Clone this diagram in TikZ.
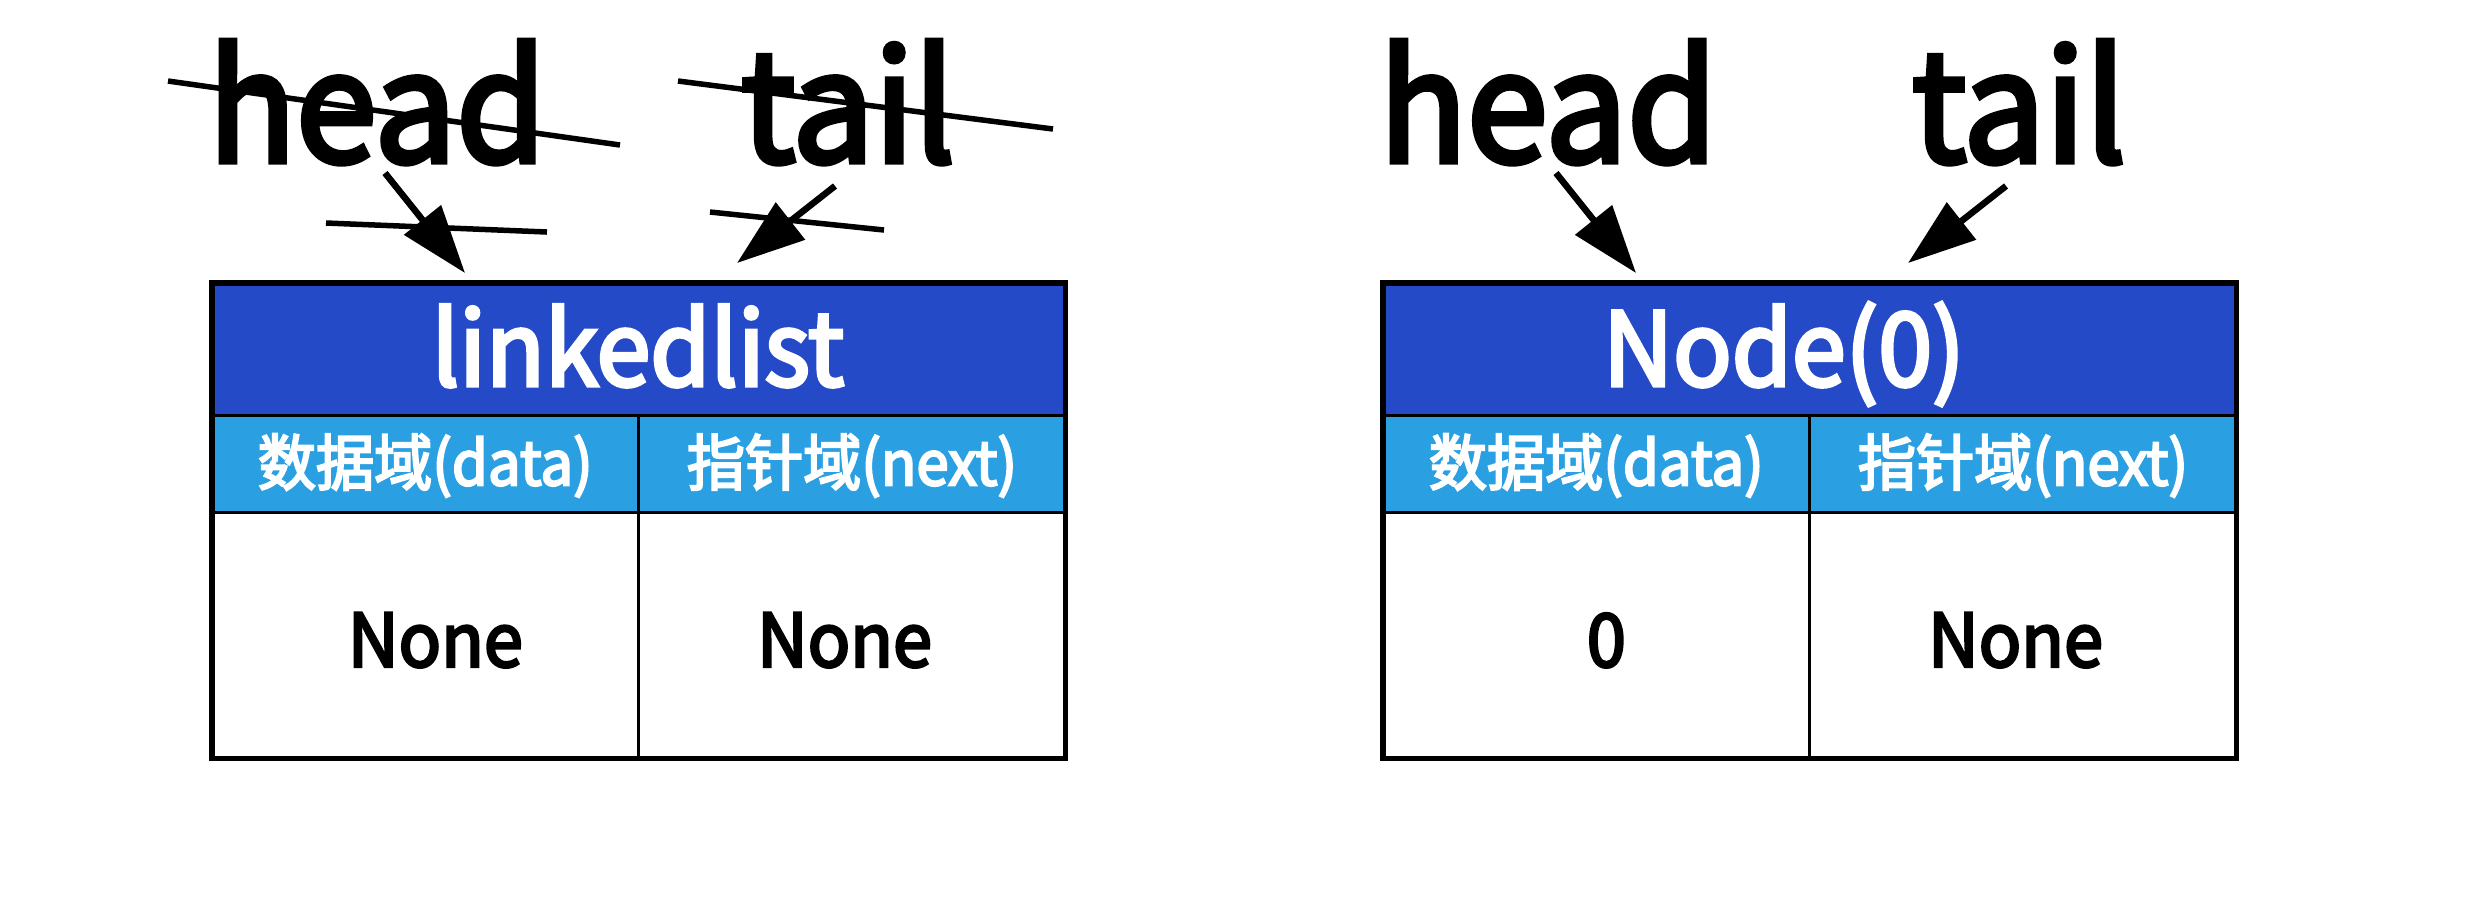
\documentclass[tikz,border=0pt]{standalone}
\usepackage{fontspec}
\setmainfont{Noto Sans CJK SC}[FakeStretch=0.95, FakeBold=3.5]
\usepackage{xcolor}
\usetikzlibrary{positioning, arrows.meta}

\definecolor{hdrblue}{HTML}{254AC8}
\definecolor{fldblue}{HTML}{2AA0E2}

\tikzset{
  hdr/.style={fill=hdrblue, text=white, inner sep=0pt, minimum width=8.5cm,
    minimum height=1.31cm, text height=0.85cm, text depth=0.12cm,
    font=\fontsize{29}{29}\selectfont},
  fld/.style={fill=fldblue, text=white, inner sep=0pt, minimum width=4.25cm,
    minimum height=0.96cm, text height=0.5cm, text depth=0.08cm,
    font=\fontsize{17.4}{17.4}\selectfont},
  val/.style={fill=white, inner sep=0pt, minimum width=4.25cm,
    minimum height=2.44cm, text height=0.66cm, text depth=0.04cm,
    font=\fontsize{21}{21}\selectfont},
  ptrname/.style={inner sep=0pt, anchor=base, font=\fontsize{43.5}{43.5}\selectfont},
  ptr/.style={line width=0.65mm, -{Triangle[length=6.8mm, width=4.6mm]}},
  grid/.style={line width=0.3mm},
  frame/.style={line width=0.55mm},
  strike/.style={line width=0.55mm}
}

\begin{document}
\begin{tikzpicture}[x=0.01cm, y=-0.01cm]
  \useasboundingbox (0,0) rectangle (2467,917);

  % the list before and after the first append
  \foreach \dx/\nm/\ttl/\dv in {0/l/linkedlist/None, 1171/r/Node(0)\kern0.5cm/0} {
    \begin{scope}[shift={(\dx,0)}]
      \node[hdr, anchor=north west] (\nm hdr) at (212,283) {\ttl};
      \node[fld, below right=0pt of \nm hdr.south west] (\nm data) {数据域(data)};
      \node[fld, right=0pt of \nm data] (\nm next) {指针域(next)};
      \node[val, below=0pt of \nm data] (\nm dval) {\kern0.2cm\dv};
      \node[val, below=0pt of \nm next] (\nm nval) {None\kern0.15cm};

      \draw[grid] (\nm hdr.south west) -- (\nm hdr.south east);
      \draw[grid] (\nm data.south west) -- (\nm next.south east);
      \draw[grid] (\nm data.north east) -- (\nm dval.south east);
      \draw[frame] (\nm hdr.north west) rectangle (\nm nval.south east);

      \node[ptrname] (\nm head) at (377,162) {head};
      \node[ptrname] (\nm tail) at (848,162) {tail};

      \coordinate (\nm hfrom) at (385,173);
      \coordinate (\nm hto) at (465,273);
      \coordinate (\nm tfrom) at (835,186);
      \coordinate (\nm tto) at (737,263);
      \draw[ptr] (\nm hfrom) -- (\nm hto);
      \draw[ptr] (\nm tfrom) -- (\nm tto);
    \end{scope}
  }

  % crossed out on the left
  \draw[strike] (168,81) -- (620,145);
  \draw[strike] (678,81) -- (1053,129);
  \draw[strike] (326,223) -- (547,232);
  \draw[strike] (710,212) -- (884,230);
\end{tikzpicture}
\end{document}
